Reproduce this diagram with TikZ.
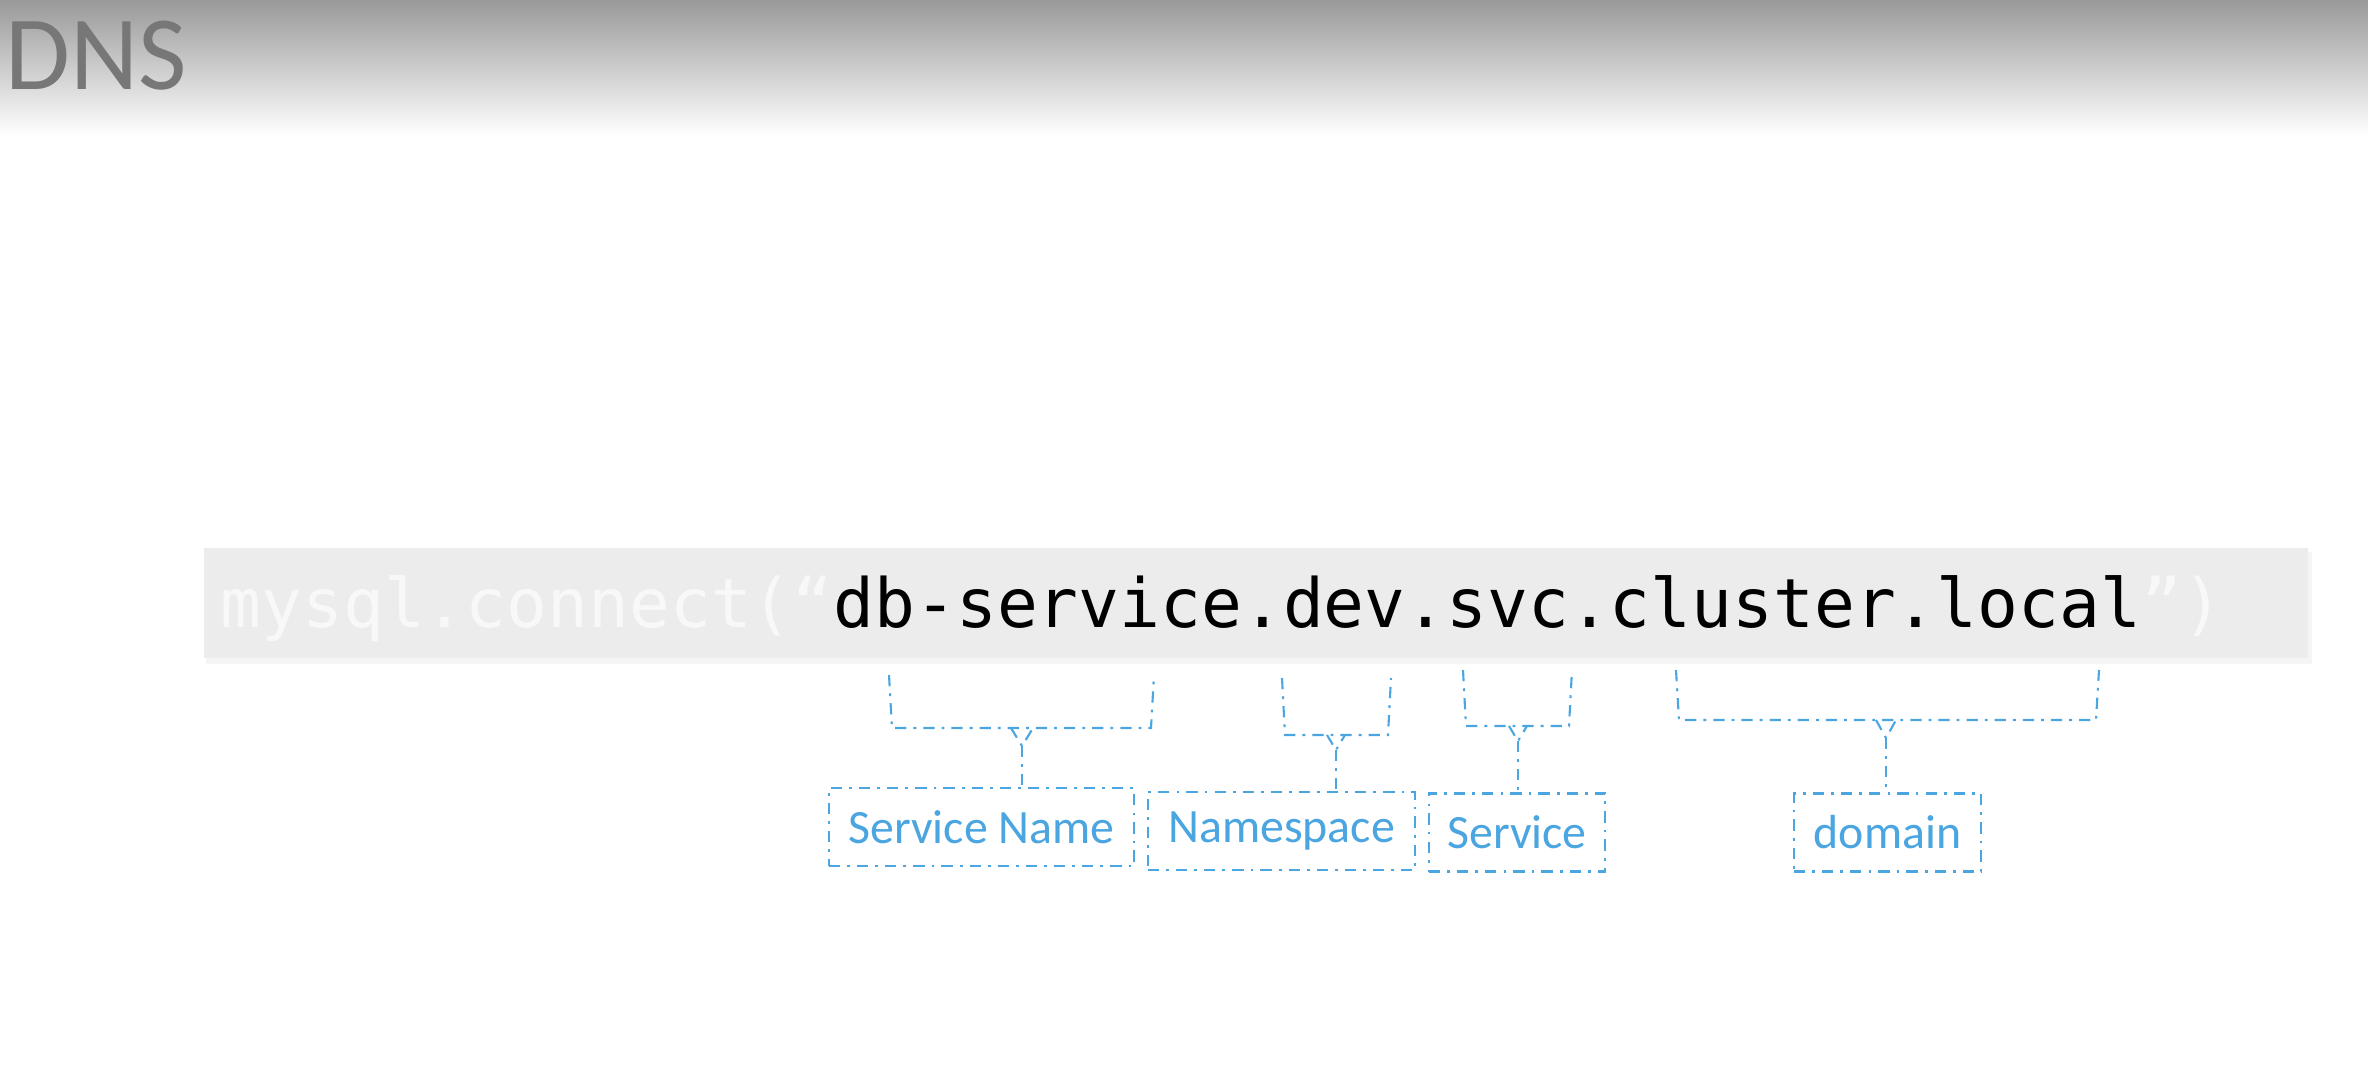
\documentclass[tikz,border=0pt]{standalone}
\usepackage{fontspec}
\setmainfont{Carlito}
\newfontfamily\codefont{DejaVu Sans Mono}
\usetikzlibrary{positioning}
\definecolor{lblue}{HTML}{4AA5E0}
\definecolor{codebg}{HTML}{ECECEC}
\definecolor{codefg}{HTML}{F8F8F8}
\definecolor{titlegray}{HTML}{777777}
\tikzset{
  brk/.style={draw=lblue,line width=0.6pt,dash pattern=on 3.2pt off 2pt on 0.8pt off 2pt},
  lbl/.style={brk,text=lblue,font=\fontsize{13.6}{16}\selectfont,minimum height=0.78cm,inner sep=0pt},
}

\begin{document}
\begin{tikzpicture}[x=0.01cm,y=-0.01cm]
\useasboundingbox (0,0) rectangle (2368,1090);
\fill[white] (0,0) rectangle (2368,1090);
\shade[top color=black!40,middle color=black!14,bottom color=white] (0,0) rectangle (2368,135);
\node[anchor=base west,inner sep=0pt,text=titlegray,font=\fontsize{30}{36}\selectfont] (title) at (5,89) {DNS};

% code line
\fill[black!4] (206,552) rectangle (2312,664);
\fill[codebg] (204,548) rectangle (2308,658);
\node[anchor=base west,inner sep=0pt,font=\codefont\fontsize{19.3}{23}\selectfont] (code) at (220,627)
  {{\color{codefg}mysql.connect(“}db-service.dev.svc.cluster.local{\color{codefg}”)}};

% labels
\node[lbl,minimum width=3.05cm] (svcname) at (981.5,827) {Service Name};
\node[lbl,minimum width=2.67cm] (nspace) at (1281.5,831) {Namespace};
\node[lbl,minimum width=1.76cm] (svc) at (1517,832.5) {Service};
\node[lbl,minimum width=1.87cm] (dom) at (1887.5,832.5) {domain};

% brackets
\draw[brk] (889,675) -- (892,728) -- (1151,728) -- (1154,675);
\draw[brk] (1011,728) -- (1022,746) -- (1033,728);
\coordinate (v1) at (1022,746);
\draw[brk] (v1) -- (v1 |- svcname.north);

\draw[brk] (1282,678) -- (1285,735) -- (1388,735) -- (1391,678);
\draw[brk] (1327,735) -- (1336,750) -- (1345,735);
\coordinate (v2) at (1336,750);
\draw[brk] (v2) -- (v2 |- nspace.north);

\draw[brk] (1463,670) -- (1466,726) -- (1569,726) -- (1572,670);
\draw[brk] (1509,726) -- (1518,741) -- (1527,726);
\coordinate (v3) at (1518,741);
\draw[brk] (v3) -- (v3 |- svc.north);

\draw[brk] (1676,670) -- (1679,720) -- (2096,720) -- (2099,670);
\draw[brk] (1876,720) -- (1886,738) -- (1896,720);
\coordinate (v4) at (1886,738);
\draw[brk] (v4) -- (v4 |- dom.north);

\end{tikzpicture}
\end{document}
